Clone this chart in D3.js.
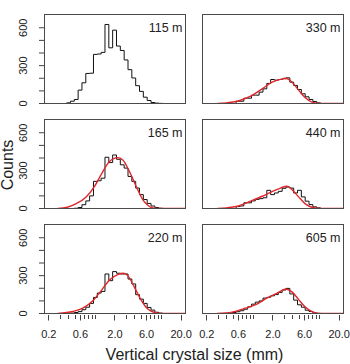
<!DOCTYPE html>
<html><head><meta charset="utf-8">
<script src="https://cdn.jsdelivr.net/npm/d3@7"></script>
<style>
body{margin:0;background:#fff}
svg{display:block}
text{font-family:"Liberation Sans",Arial,Helvetica,sans-serif;fill:#222}
</style>
</head><body><svg id="c" width="350" height="364"></svg>
<script>
// ---- data ----
const binEdges = [0.3715,0.4246,0.4853,0.5546,0.6339,0.7244,0.8279,0.9462,1.0814,1.2359,1.4125,1.6144,1.8450,2.1086,2.4099,2.7542,3.1477,3.5975,4.1115,4.6989,5.3703,6.1376,7.0146,8.0168,9.1622,10.471];

const counts115 = [5,18,32,106,164,238,240,389,392,405,626,441,581,455,420,345,268,202,141,96,50,24,8,3,1];
const counts165 = [0,0,2,8,30,60,100,215,220,240,406,364,424,390,346,320,254,215,162,110,71,40,20,8,2];
const counts220 = [0,3,8,15,30,50,80,127,162,175,313,260,332,319,313,313,273,234,149,114,80,48,27,10,3];
const counts330 = [0,0,0,18,18,42,42,66,66,90,116,159,190,185,190,196,203,169,143,111,77,53,32,16,5];
const counts440 = [0,0,0,15,20,45,45,60,72,78,85,144,110,123,136,160,170,162,123,144,92,58,31,13,5];
const counts605 = [0,3,8,14,22,34,53,74,90,100,122,128,140,150,167,186,199,155,106,69,50,26,16,5,1];

const curve165X = [0.272,0.38,0.519,0.733,0.982,1.312,1.652,2.203,2.624,3.311,4.178,5.26,6.266,7.464,10,25];
const curve165Y = [0,10,39,92,176,293,372,403,385,293,176,71,26,5,0,0];
const curve220X = [0.2735,0.461,0.653,0.925,1.239,1.652,2.203,2.692,3.126,3.945,4.977,6.266,7.907,10,25];
const curve220Y = [0,16,42,101,181,266,308,319,300,207,106,35,8,0,0];
const curve330X = [0.29,0.398,0.578,0.918,1.374,1.945,2.69,3.02,3.39,3.89,4.887,6.166,7.762,10.4,25];
const curve330Y = [0,5,18,58,116,169,193,200,193,169,106,45,11,0,0];
const curve440X = [0.29,0.40,0.578,0.918,1.374,1.837,2.594,3.266,3.89,4.887,6.166,7.762,10.4,25];
const curve440Y = [0,5,18,58,97,128,162,176,149,92,37,10,0,0];
const curve605X = [0.286,0.48,0.764,1.14,1.614,2.28,3.119,3.837,4.831,6.095,7.674,10,25];
const curve605Y = [0,11,42,74,122,159,194,173,114,53,16,0,0];

const panelLabels = ["115 m","165 m","220 m","330 m","440 m","605 m"];
const xMajorTicks = [0.2,0.6,2,6,20];
const xMajorLabels = ["0.2","0.6","2.0","6.0","20.0"];
const xMinorTicks = [0.3,0.4,0.5,0.7,0.8,0.9,1,3,4,5,7,8,9,10];
const yTicks = [0,100,200,300,400,500,600];
const yLabelTicks = [0,300,600];
const xTitle = "Vertical crystal size (mm)";
const yTitle = "Counts";

// ---- layout ----
const W = 141, H = 89;
const colX = [44.5, 202.5];
const rowY = [14.5, 119.5, 224.5];
const panels = [
  {label: panelLabels[0], counts: counts115, cx: null, cy: null, col: 0, row: 0},
  {label: panelLabels[1], counts: counts165, cx: curve165X, cy: curve165Y, col: 0, row: 1},
  {label: panelLabels[2], counts: counts220, cx: curve220X, cy: curve220Y, col: 0, row: 2},
  {label: panelLabels[3], counts: counts330, cx: curve330X, cy: curve330Y, col: 1, row: 0},
  {label: panelLabels[4], counts: counts440, cx: curve440X, cy: curve440Y, col: 1, row: 1},
  {label: panelLabels[5], counts: counts605, cx: curve605X, cy: curve605Y, col: 1, row: 2}
];

const x = d3.scaleLog().domain([0.172, 23.3]).range([0, W]);
const y = d3.scaleLinear().domain([0, 705]).range([H, 0]);

const svg = d3.select("#c");
const defs = svg.append("defs");
defs.append("clipPath").attr("id","clip").append("rect").attr("width",W).attr("height",H);

const histLine = d3.line().x(d => x(d[0])).y(d => y(d[1])).curve(d3.curveStepAfter);
const fitLine = d3.line().x(d => x(d[0])).y(d => y(d[1])).curve(d3.curveMonotoneX);

panels.forEach(p => {
  const g = svg.append("g").attr("transform", `translate(${colX[p.col]},${rowY[p.row]})`);
  const pts = [[binEdges[0], 0]];
  p.counts.forEach((c, i) => pts.push([binEdges[i], c]));
  pts.push([binEdges[p.counts.length], 0]);
  const inner = g.append("g").attr("clip-path","url(#clip)");
  inner.append("path").attr("d", histLine(pts)).attr("fill","none").attr("stroke","#111").attr("stroke-width",1);
  if (p.cx) {
    const cpts = p.cx.map((v, i) => [v, p.cy[i]]);
    inner.append("path").attr("d", fitLine(cpts)).attr("fill","none").attr("stroke","#e0262b").attr("stroke-width",1.4);
  }
  g.append("rect").attr("width", W).attr("height", H).attr("fill","none").attr("stroke","#4a4a4a").attr("stroke-width",1);
  g.append("text").attr("x", W - 3).attr("y", 17).attr("text-anchor","end").attr("font-size", 12.5).text(p.label);

  if (p.col === 0) {
    g.selectAll(".yt").data(yTicks).enter().append("line")
      .attr("x1", 0).attr("x2", -5.5).attr("y1", d => y(d)).attr("y2", d => y(d))
      .attr("stroke","#444");
    g.selectAll(".yl").data(yLabelTicks).enter().append("text")
      .attr("transform", d => `translate(-18,${y(d)}) rotate(-90)`)
      .attr("text-anchor","middle").attr("font-size", 11).text(d => d);
  }
  if (p.row === 2) {
    g.selectAll(".xm").data(xMajorTicks).enter().append("line")
      .attr("x1", d => Math.round(x(d))).attr("x2", d => Math.round(x(d)))
      .attr("y1", H + 1.5).attr("y2", H + 7).attr("stroke","#444");
    g.selectAll(".xn").data(xMinorTicks).enter().append("line")
      .attr("x1", d => Math.round(x(d))).attr("x2", d => Math.round(x(d)))
      .attr("y1", H + 1.5).attr("y2", H + 5.5).attr("stroke","#444");
    g.selectAll(".xl").data(xMajorTicks).enter().append("text")
      .attr("x", d => x(d)).attr("y", H + 24.5).attr("text-anchor","middle").attr("font-size", 11)
      .text((d, i) => xMajorLabels[i]);
  }
});

svg.append("text").attr("x", 194.5).attr("y", 360).attr("text-anchor","middle").attr("font-size", 16).text(xTitle);
svg.append("text").attr("transform","translate(13,165) rotate(-90)").attr("text-anchor","middle").attr("font-size", 16).text(yTitle);
</script>
</body></html>
